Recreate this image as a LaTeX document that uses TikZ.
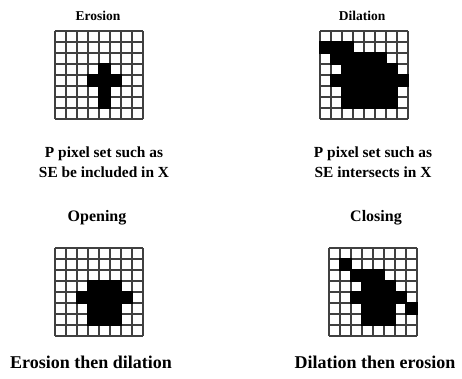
\documentclass[tikz,border=0pt]{standalone}
\usepackage{fontspec}
\setmainfont{Liberation Serif}
\begin{document}
\begin{tikzpicture}[x=1pt,y=-1pt,
    title/.style={font=\bfseries\fontsize{13.5}{16}\selectfont},
    subtitle/.style={font=\bfseries\fontsize{16}{18}\selectfont},
    caption/.style={font=\bfseries\fontsize{15.4}{20.5}\selectfont, align=center},
    result/.style={font=\bfseries\fontsize{18}{20}\selectfont},
    gridline/.style={draw=black!75, line width=2.1pt},
    pix/.style={fill=black}]
    \useasboundingbox (0,0) rectangle (462,378);

    % Erosion grid
    \begin{scope}[shift={(55,31)}]
        \foreach \i in {0,...,8} {
            \draw[gridline] (\i*11,0) -- (\i*11,88);
            \draw[gridline] (0,\i*11) -- (88,\i*11);
        }
        \foreach \r/\a/\b in {3/4/4, 4/3/5, 5/4/4, 6/4/4}
            \fill[pix] (\a*11-1,\r*11-1) rectangle (\b*11+12,\r*11+12);
    \end{scope}

    % Dilation grid
    \begin{scope}[shift={(320,31)}]
        \foreach \i in {0,...,8} {
            \draw[gridline] (\i*11,0) -- (\i*11,88);
            \draw[gridline] (0,\i*11) -- (88,\i*11);
        }
        \foreach \r/\a/\b in {1/0/2, 2/1/5, 3/2/6, 4/1/7, 5/2/6, 6/2/6}
            \fill[pix] (\a*11-1,\r*11-1) rectangle (\b*11+12,\r*11+12);
    \end{scope}

    % Opening grid
    \begin{scope}[shift={(55,248)}]
        \foreach \i in {0,...,8} {
            \draw[gridline] (\i*11,0) -- (\i*11,88);
            \draw[gridline] (0,\i*11) -- (88,\i*11);
        }
        \foreach \r/\a/\b in {3/3/5, 4/2/6, 5/3/5, 6/3/5}
            \fill[pix] (\a*11-1,\r*11-1) rectangle (\b*11+12,\r*11+12);
    \end{scope}

    % Closing grid
    \begin{scope}[shift={(329,248)}]
        \foreach \i in {0,...,8} {
            \draw[gridline] (\i*11,0) -- (\i*11,88);
            \draw[gridline] (0,\i*11) -- (88,\i*11);
        }
        \foreach \r/\a/\b in {1/1/1, 2/2/4, 3/3/5, 4/2/6, 5/3/5, 5/7/7, 6/3/5}
            \fill[pix] (\a*11-1,\r*11-1) rectangle (\b*11+12,\r*11+12);
    \end{scope}

    % Define labels
    \node[title] (erosion) at (98,16) {Erosion};
    \node[title] (dilation) at (362,16) {Dilation};
    \node[caption] (erodesc) at (104,162) {P pixel set such as\\SE be included in X};
    \node[caption] (dilatedesc) at (373,162) {P pixel set such as\\SE intersects in X};
    \node[subtitle] (opening) at (97,218) {Opening};
    \node[subtitle] (closing) at (376,218) {Closing};
    \node[result] (openres) at (91,362) {Erosion then dilation};
    \node[result] (closeres) at (375,362) {Dilation then erosion};
\end{tikzpicture}
\end{document}
